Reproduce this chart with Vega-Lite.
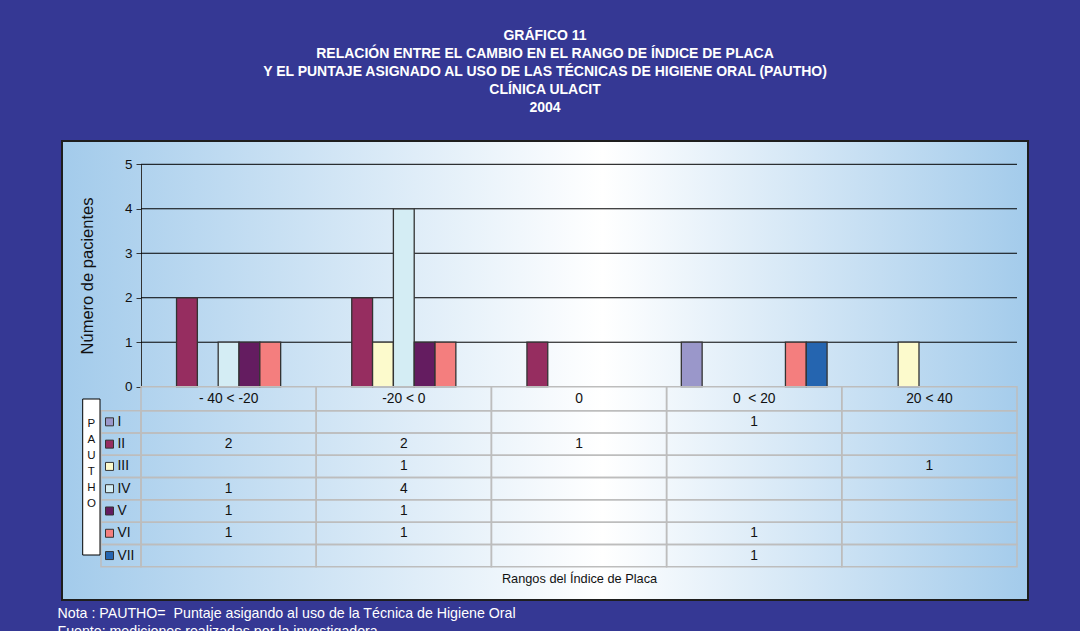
{
  "$schema": "https://vega.github.io/schema/vega-lite/v6.json",
  "autosize": {"type": "none"},
  "width": 966,
  "height": 459,
  "padding": {"left": 62, "top": 141, "right": 52, "bottom": 31},
  "background": "#353894",
  "config": {
    "font": "Liberation Sans",
    "view": {
      "fill": {"gradient": "linear", "x1": 0, "y1": 0, "x2": 1, "y2": 0,
        "stops": [{"offset": 0, "color": "#A3CBEB"}, {"offset": 0.56, "color": "#FFFFFF"}, {"offset": 1, "color": "#A3CBEB"}]},
      "stroke": "#1e1e1e",
      "strokeWidth": 2
    }
  },
  "title": {
    "text": ["GRÁFICO 11", "RELACIÓN ENTRE EL CAMBIO EN EL RANGO DE ÍNDICE DE PLACA", "Y EL PUNTAJE ASIGNADO AL USO DE LAS TÉCNICAS DE HIGIENE ORAL (PAUTHO)", "CLÍNICA ULACIT", "2004"],
    "color": "#ffffff", "fontSize": 14, "fontWeight": "bold", "font": "Liberation Sans",
    "lineHeight": 18, "anchor": "middle", "frame": "group", "offset": 26
  },
  "datasets": {
    "conteos": [
      {"rango": "- 40 < -20", "pautho": "I", "n": null},
      {"rango": "- 40 < -20", "pautho": "II", "n": 2},
      {"rango": "- 40 < -20", "pautho": "III", "n": null},
      {"rango": "- 40 < -20", "pautho": "IV", "n": 1},
      {"rango": "- 40 < -20", "pautho": "V", "n": 1},
      {"rango": "- 40 < -20", "pautho": "VI", "n": 1},
      {"rango": "- 40 < -20", "pautho": "VII", "n": null},
      {"rango": "-20 < 0", "pautho": "I", "n": null},
      {"rango": "-20 < 0", "pautho": "II", "n": 2},
      {"rango": "-20 < 0", "pautho": "III", "n": 1},
      {"rango": "-20 < 0", "pautho": "IV", "n": 4},
      {"rango": "-20 < 0", "pautho": "V", "n": 1},
      {"rango": "-20 < 0", "pautho": "VI", "n": 1},
      {"rango": "-20 < 0", "pautho": "VII", "n": null},
      {"rango": "0", "pautho": "I", "n": null},
      {"rango": "0", "pautho": "II", "n": 1},
      {"rango": "0", "pautho": "III", "n": null},
      {"rango": "0", "pautho": "IV", "n": null},
      {"rango": "0", "pautho": "V", "n": null},
      {"rango": "0", "pautho": "VI", "n": null},
      {"rango": "0", "pautho": "VII", "n": null},
      {"rango": "0\u00a0 < 20", "pautho": "I", "n": 1},
      {"rango": "0\u00a0 < 20", "pautho": "II", "n": null},
      {"rango": "0\u00a0 < 20", "pautho": "III", "n": null},
      {"rango": "0\u00a0 < 20", "pautho": "IV", "n": null},
      {"rango": "0\u00a0 < 20", "pautho": "V", "n": null},
      {"rango": "0\u00a0 < 20", "pautho": "VI", "n": 1},
      {"rango": "0\u00a0 < 20", "pautho": "VII", "n": 1},
      {"rango": "20 < 40", "pautho": "I", "n": null},
      {"rango": "20 < 40", "pautho": "II", "n": null},
      {"rango": "20 < 40", "pautho": "III", "n": 1},
      {"rango": "20 < 40", "pautho": "IV", "n": null},
      {"rango": "20 < 40", "pautho": "V", "n": null},
      {"rango": "20 < 40", "pautho": "VI", "n": null},
      {"rango": "20 < 40", "pautho": "VII", "n": null}
    ],
    "rangos": [
      {"rango": "- 40 < -20"}, {"rango": "-20 < 0"}, {"rango": "0"}, {"rango": "0\u00a0 < 20"}, {"rango": "20 < 40"}
    ],
    "series": [
      {"pautho": "I"}, {"pautho": "II"}, {"pautho": "III"}, {"pautho": "IV"}, {"pautho": "V"}, {"pautho": "VI"}, {"pautho": "VII"}
    ]
  },
  "layer": [
    {
      "data": {"values": [{"v": 1}, {"v": 2}, {"v": 3}, {"v": 4}, {"v": 5}]},
      "mark": {"type": "rule", "color": "#000000", "strokeWidth": 1},
      "encoding": {
        "y": {"field": "v", "type": "quantitative", "scale": {"domain": [0, 5], "range": [245.7, 23.3]}, "axis": null},
        "x": {"datum": 0, "type": "quantitative", "scale": {"domain": [0, 1], "range": [79, 955]}, "axis": null},
        "x2": {"datum": 1}
      }
    },
    {
      "data": {"name": "conteos"},
      "transform": [{"filter": "datum.n > 0"}],
      "mark": {"type": "bar", "stroke": "#333333", "strokeWidth": 1.3, "opacity": 1},
      "encoding": {
        "x": {"field": "rango", "type": "nominal",
          "scale": {"domain": ["- 40 < -20", "-20 < 0", "0", "0\u00a0 < 20", "20 < 40"], "range": [79, 955], "paddingInner": 0.168, "paddingOuter": 0.084},
          "axis": {"orient": "bottom", "domain": false, "ticks": false, "labels": false, "grid": false,
            "title": ["Nota : PAUTHO=\u00a0 Puntaje asigando al uso de la Técnica de Higiene Oral", "Fuente: mediciones realizadas por la investigadora"],
            "titleX": -5, "titleY": 6, "titleAlign": "left", "titleAnchor": "start", "titleBaseline": "top",
            "titleColor": "#ffffff", "titleFontSize": 14.2, "titleFontWeight": "normal", "titleLineHeight": 18}},
        "xOffset": {"field": "pautho", "type": "nominal", "scale": {"domain": ["I", "II", "III", "IV", "V", "VI", "VII"], "paddingInner": 0, "paddingOuter": 0}},
        "y": {"field": "n", "type": "quantitative", "scale": {"domain": [0, 5], "range": [245.7, 23.3]},
          "axis": {"orient": "left", "offset": -79, "values": [0, 1, 2, 3, 4, 5], "grid": false,
            "domainColor": "#333333", "tickColor": "#333333", "tickSize": 5, "labelFontSize": 13.5, "labelColor": "#111111", "labelPadding": 4,
            "title": "Número de pacientes", "titleFontSize": 16.5, "titleFontWeight": "normal", "titleColor": "#111111", "titlePadding": 29}},
        "color": {"field": "pautho", "type": "nominal",
          "scale": {"domain": ["I", "II", "III", "IV", "V", "VI", "VII"], "range": ["#9A97CA", "#962D60", "#FCFACC", "#D4EDF4", "#641C60", "#F47E7E", "#2565B0"]},
          "legend": null}
      }
    },
    {
      "data": {"name": "conteos"},
      "mark": {"type": "rect", "fillOpacity": 0, "stroke": "#BDBDBD", "strokeWidth": 1.5},
      "encoding": {
        "x": {"field": "rango", "type": "nominal",
          "scale": {"domain": ["- 40 < -20", "-20 < 0", "0", "0\u00a0 < 20", "20 < 40"], "range": [79, 955], "paddingInner": 0, "paddingOuter": 0},
          "axis": {"orient": "bottom", "offset": -33.3, "domain": false, "ticks": false, "labels": false, "grid": false,
            "title": "Rangos del Índice de Placa", "titleFontSize": 12.75, "titleFontWeight": "normal", "titleColor": "#111111", "titlePadding": 6}},
        "y": {"field": "pautho", "type": "nominal",
          "scale": {"domain": ["I", "II", "III", "IV", "V", "VI", "VII"], "range": [269.7, 425.7], "paddingInner": 0, "paddingOuter": 0}, "axis": null}
      }
    },
    {
      "data": {"name": "conteos"},
      "transform": [{"filter": "datum.n > 0"}],
      "mark": {"type": "text", "fontSize": 13.8, "color": "#111111", "baseline": "middle"},
      "encoding": {
        "x": {"field": "rango", "type": "nominal",
          "scale": {"domain": ["- 40 < -20", "-20 < 0", "0", "0\u00a0 < 20", "20 < 40"], "range": [79, 955], "paddingInner": 0, "paddingOuter": 0}, "axis": null},
        "y": {"field": "pautho", "type": "nominal",
          "scale": {"domain": ["I", "II", "III", "IV", "V", "VI", "VII"], "range": [269.7, 425.7], "paddingInner": 0, "paddingOuter": 0}, "axis": null},
        "text": {"field": "n", "type": "quantitative"}
      }
    },
    {
      "data": {"name": "rangos"},
      "encoding": {
        "x": {"field": "rango", "type": "nominal",
          "scale": {"domain": ["- 40 < -20", "-20 < 0", "0", "0\u00a0 < 20", "20 < 40"], "range": [79, 955], "paddingInner": 0, "paddingOuter": 0}, "axis": null},
        "y": {"datum": "h", "type": "nominal", "scale": {"domain": ["h"], "range": [245.7, 269.7], "paddingInner": 0, "paddingOuter": 0}, "axis": null}
      },
      "layer": [
        {"mark": {"type": "rect", "fillOpacity": 0, "stroke": "#BDBDBD", "strokeWidth": 1.5}},
        {"mark": {"type": "text", "fontSize": 13.8, "color": "#111111", "baseline": "middle"}, "encoding": {"text": {"field": "rango"}}}
      ]
    },
    {
      "data": {"name": "series"},
      "encoding": {
        "x": {"datum": "leg", "type": "nominal", "scale": {"domain": ["leg"], "range": [39, 79], "paddingInner": 0, "paddingOuter": 0}, "axis": null},
        "y": {"field": "pautho", "type": "nominal",
          "scale": {"domain": ["I", "II", "III", "IV", "V", "VI", "VII"], "range": [269.7, 425.7], "paddingInner": 0, "paddingOuter": 0}, "axis": null}
      },
      "layer": [
        {"mark": {"type": "rect", "fillOpacity": 0, "stroke": "#BDBDBD", "strokeWidth": 1.5}},
        {"mark": {"type": "square", "size": 64, "filled": true, "opacity": 1, "stroke": "#333333", "strokeWidth": 1, "xOffset": -11.5},
          "encoding": {"color": {"field": "pautho", "type": "nominal", "legend": null}}},
        {"mark": {"type": "text", "align": "left", "baseline": "middle", "dx": -3.5, "fontSize": 13.8, "color": "#111111"},
          "encoding": {"text": {"field": "pautho"}}}
      ]
    },
    {
      "data": {"values": [{"titulo": "PAUTHO"}]},
      "layer": [
        {"mark": {"type": "rect", "fill": "#ffffff", "stroke": "#000000", "strokeWidth": 1},
          "encoding": {
            "x": {"datum": 0, "type": "quantitative", "scale": {"domain": [0, 1], "range": [20.7, 38]}, "axis": null},
            "x2": {"datum": 1},
            "y": {"datum": 0, "type": "quantitative", "scale": {"domain": [0, 1], "range": [258, 414]}, "axis": null},
            "y2": {"datum": 1}
          }},
        {"mark": {"type": "text", "text": ["P", "A", "U", "T", "H", "O"], "align": "center", "baseline": "top", "dy": 18.5, "lineHeight": 16, "fontSize": 11.5, "color": "#111111"},
          "encoding": {
            "x": {"datum": 0.5, "type": "quantitative", "scale": {"domain": [0, 1], "range": [20.7, 38]}, "axis": null},
            "y": {"datum": 0, "type": "quantitative", "scale": {"domain": [0, 1], "range": [258, 414]}, "axis": null}
          }}
      ]
    }
  ],
  "resolve": {"scale": {"x": "independent", "y": "independent"}}
}
